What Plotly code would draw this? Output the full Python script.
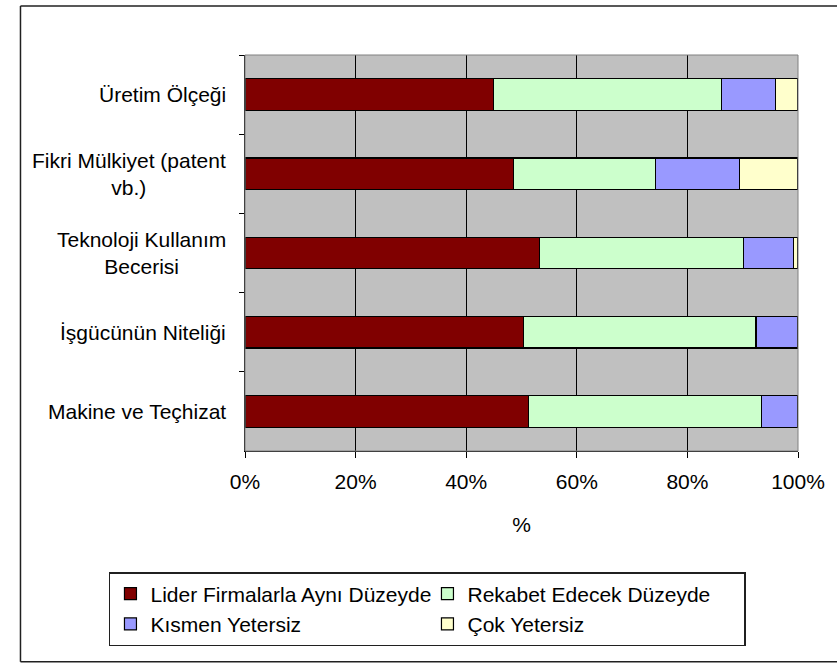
import plotly.graph_objects as go

# Competence areas, listed top to bottom
categories = [
    "Üretim Ölçeği",
    "Fikri Mülkiyet (patent<br>vb.)",
    "Teknoloji Kullanım<br>Becerisi",
    "İşgücünün Niteliği",
    "Makine ve Teçhizat",
]

# Share of firms (%) in each assessment level
lider = [44.9, 48.6, 53.2, 50.4, 51.2]
rekabet = [41.3, 25.6, 36.9, 42.0, 42.2]
kismen = [9.8, 15.2, 9.1, 7.6, 6.6]
cok = [4.0, 10.6, 0.8, None, None]

series_names = [
    "Lider Firmalarla Aynı Düzeyde",
    "Rekabet Edecek Düzeyde",
    "Kısmen Yetersiz",
    "Çok Yetersiz",
]
series_values = [lider, rekabet, kismen, cok]
series_colors = ["#800000", "#CCFFCC", "#9999FF", "#FFFFCC"]

x_ticks = [0, 20, 40, 60, 80, 100]

FONT = "Liberation Sans, Arial, sans-serif"
FS = 21

fig = go.Figure()
for name, vals, color in zip(series_names, series_values, series_colors):
    fig.add_trace(go.Bar(
        y=categories,
        x=vals,
        name=name,
        orientation="h",
        marker=dict(color=color, line=dict(color="black", width=1.2)),
    ))

# Category labels, centred line by line to the left of the axis
for cat in categories:
    fig.add_annotation(
        x=-0.031, xref="paper", xanchor="right",
        y=cat, yref="y", yanchor="middle",
        text=cat, showarrow=False, align="center",
        font=dict(family=FONT, size=FS, color="black"),
    )

# Chart frame (left, top and bottom edges; the right edge runs past the page)
frame = dict(xref="paper", yref="paper", line=dict(color="#202020", width=1.5))
fig.add_shape(type="line", x0=-0.406, x1=-0.406, y0=-0.532, y1=1.124, **frame)
fig.add_shape(type="line", x0=-0.406, x1=1.2, y0=1.124, y1=1.124, **frame)
fig.add_shape(type="line", x0=-0.406, x1=1.2, y0=-0.532, y1=-0.532, **frame)
# Grey plot-area border
fig.add_shape(type="rect", xref="paper", yref="paper",
              x0=0, x1=1, y0=0, y1=1,
              line=dict(color="#808080", width=1), layer="above")

fig.update_layout(
    width=837, height=666,
    margin=dict(l=245, r=39, t=55, b=215),
    barmode="stack",
    bargap=0.6,
    paper_bgcolor="white",
    plot_bgcolor="#C0C0C0",
    font=dict(family=FONT, size=FS, color="black"),
    showlegend=True,
    legend=dict(
        orientation="h",
        x=-0.246, xanchor="left",
        y=-0.3056, yanchor="top",
        bordercolor="#202020", borderwidth=1.5,
        bgcolor="white",
        entrywidth=272,
        font=dict(family=FONT, size=FS, color="black"),
        traceorder="normal",
    ),
    xaxis=dict(
        range=[0, 100],
        tickvals=x_ticks,
        ticktext=[f"{v}%" for v in x_ticks],
        showgrid=True, gridcolor="black", gridwidth=1,
        showline=True, linecolor="black", linewidth=1,
        ticks="outside", ticklen=6, tickcolor="black",
        ticklabelstandoff=6,
        zeroline=False,
        title=dict(text="%", standoff=25,
                   font=dict(family=FONT, size=FS, color="black")),
    ),
    yaxis=dict(
        autorange="reversed",
        showticklabels=False,
        showgrid=False,
        showline=True, linecolor="black", linewidth=1,
        ticks="outside", ticklen=5, tickcolor="black",
        tickson="boundaries",
        zeroline=False,
    ),
)

fig.write_html("out.html")
